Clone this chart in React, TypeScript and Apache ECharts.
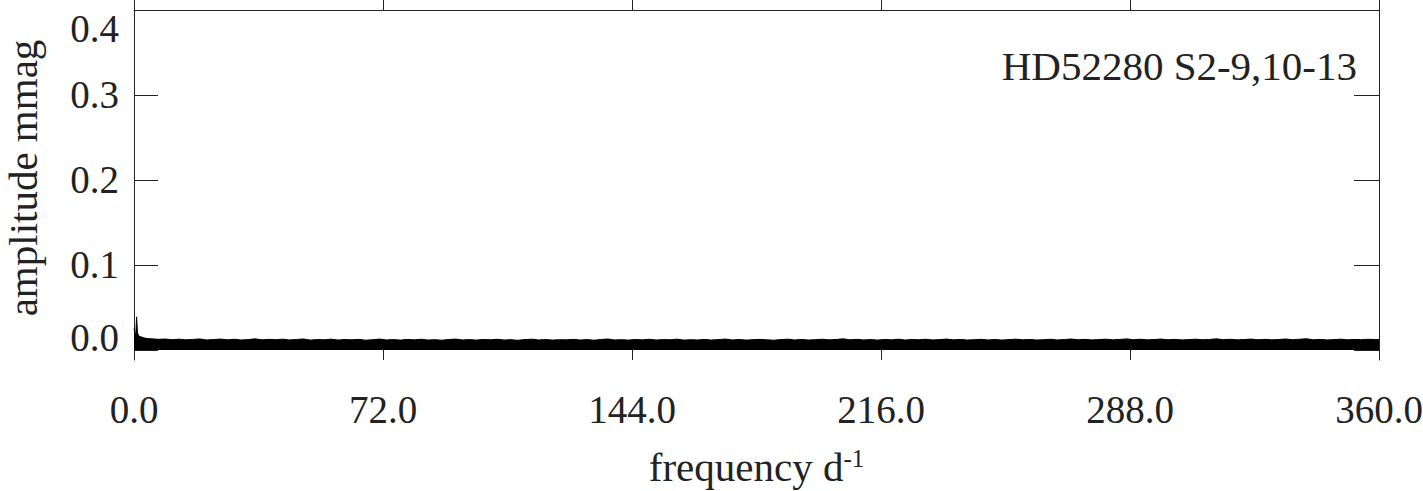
import React, { useEffect, useRef } from "react";
import * as echarts from "echarts";

const xTicks = [0, 72, 144, 216, 288, 360];
const yTicks = [0, 0.1, 0.2, 0.3, 0.4];
const starLabel = "HD52280 S2-9,10-13";
const xTitle = "frequency d";
const xTitleSup = "-1";
const yTitle = "amplitude mmag";

// low-frequency part of the amplitude spectrum (d^-1, mmag)
const lowFreq = [0, 0.25, 0.5, 0.75, 1.0, 1.25, 1.5, 2, 2.5, 3, 3.5, 4];
const lowAmp = [0.025, 0.021, 0.017, 0.039, 0.02, 0.018, 0.016, 0.0155, 0.0148, 0.0142, 0.0138, 0.0134];

// noise floor from 5 to 359 d^-1, every 2 d^-1
const noiseFreqStart = 5;
const noiseFreqStep = 2;
const noiseAmp = [
  0.0132, 0.0125, 0.0129, 0.0121, 0.0127, 0.0119, 0.0124, 0.0130, 0.0118, 0.0123, 0.0128, 0.0120, 0.0126, 0.0117, 0.0122, 0.0131, 0.0119, 0.0125, 0.0121, 0.0127,
  0.0118, 0.0124, 0.0129, 0.0116, 0.0122, 0.0120, 0.0127, 0.0117, 0.0123, 0.0119, 0.0125, 0.0115, 0.0121, 0.0128, 0.0118, 0.0122, 0.0116, 0.0124, 0.0119, 0.0126,
  0.0117, 0.0121, 0.0115, 0.0123, 0.0128, 0.0118, 0.0122, 0.0116, 0.0124, 0.0120, 0.0126, 0.0117, 0.0121, 0.0114, 0.0122, 0.0127, 0.0118, 0.0123, 0.0116, 0.0121,
  0.0119, 0.0125, 0.0117, 0.0122, 0.0115, 0.0123, 0.0129, 0.0118, 0.0121, 0.0116, 0.0124, 0.0119, 0.0126, 0.0117, 0.0122, 0.0120, 0.0127, 0.0116, 0.0121, 0.0118,
  0.0124, 0.0117, 0.0122, 0.0128, 0.0118, 0.0123, 0.0116, 0.0121, 0.0125, 0.0119, 0.0115, 0.0122, 0.0127, 0.0118, 0.0124, 0.0117, 0.0121, 0.0126, 0.0119, 0.0123,
  0.0131, 0.0120, 0.0125, 0.0118, 0.0122, 0.0116, 0.0124, 0.0119, 0.0127, 0.0117, 0.0123, 0.0120, 0.0126, 0.0118, 0.0122, 0.0128, 0.0119, 0.0124, 0.0117, 0.0121,
  0.0125, 0.0118, 0.0123, 0.0116, 0.0122, 0.0127, 0.0119, 0.0124, 0.0117, 0.0121, 0.0126, 0.0118, 0.0123, 0.0129, 0.0120, 0.0125, 0.0118, 0.0122, 0.0127, 0.0119,
  0.0124, 0.0130, 0.0121, 0.0126, 0.0119, 0.0123, 0.0128, 0.0120, 0.0125, 0.0118, 0.0122, 0.0127, 0.0120, 0.0124, 0.0131, 0.0121, 0.0126, 0.0119, 0.0123, 0.0128,
  0.0120, 0.0125, 0.0119, 0.0123, 0.0129, 0.0121, 0.0126, 0.0132, 0.0120, 0.0124, 0.0118, 0.0122, 0.0127, 0.0119, 0.0124, 0.0121, 0.0126, 0.0122,
];
// last sample at the right edge of the range
const endFreq = 360;
const endAmp = 0.0123;

const FONT = "'Liberation Serif', 'DejaVu Serif', serif";
const INK = "#222";

export default function App() {
  const ref = useRef<HTMLDivElement>(null);

  useEffect(() => {
    if (!ref.current) return;
    const chart = echarts.init(ref.current, undefined, { renderer: "svg" });

    const data: [number, number][] = [];
    lowFreq.forEach((f, i) => data.push([f, lowAmp[i]]));
    noiseAmp.forEach((a, i) => data.push([noiseFreqStart + i * noiseFreqStep, a]));
    data.push([endFreq, endAmp]);

    const yLabelFmt = (v: number) => {
      const s = v.toFixed(1);
      if (Math.abs(v) < 1e-9) return `{lo|${s}}`;
      if (Math.abs(v - 0.4) < 1e-9) return `{hi|${s}}`;
      return `{n|${s}}`;
    };

    chart.setOption({
      animation: false,
      backgroundColor: "#fff",
      grid: { left: 134, right: 44, top: 10, bottom: 131, containLabel: false, outerBoundsMode: "none" },
      xAxis: [
        {
          type: "value",
          position: "bottom",
          min: xTicks[0],
          max: xTicks[xTicks.length - 1],
          interval: 72,
          axisLine: { show: false, onZero: false },
          axisTick: { show: true, inside: true, length: 10, lineStyle: { color: INK, width: 1 } },
          axisLabel: {
            show: true,
            margin: 30,
            fontSize: 39,
            fontFamily: FONT,
            color: INK,
            formatter: (v: number) => v.toFixed(1),
          },
          splitLine: { show: false },
          name: `{a|${xTitle}}{s|${xTitleSup}}`,
          nameLocation: "middle",
          nameGap: 86,
          nameTextStyle: {
            rich: {
              a: { fontSize: 41, fontFamily: FONT, color: INK, lineHeight: 41 },
              s: { fontSize: 25, fontFamily: FONT, color: INK, verticalAlign: "top", lineHeight: 24 },
            },
          },
        },
        {
          type: "value",
          position: "top",
          min: xTicks[0],
          max: xTicks[xTicks.length - 1],
          interval: 72,
          axisLine: { show: true, onZero: false, lineStyle: { color: INK, width: 1 } },
          axisTick: { show: true, inside: false, length: 10, lineStyle: { color: INK, width: 1 } },
          axisLabel: { show: false },
          splitLine: { show: false },
        },
      ],
      yAxis: [
        {
          type: "value",
          position: "left",
          min: -0.0118,
          max: 0.4,
          axisLine: { show: true, onZero: false, lineStyle: { color: INK, width: 1 } },
          axisTick: { show: true, inside: true, length: 24, customValues: yTicks, lineStyle: { color: INK, width: 1 } },
          axisLabel: {
            show: true,
            customValues: yTicks,
            margin: 15,
            formatter: yLabelFmt,
            rich: {
              n: { fontSize: 39, fontFamily: FONT, color: INK },
              lo: { fontSize: 39, fontFamily: FONT, color: INK, padding: [0, 0, 24, 0] },
              hi: { fontSize: 39, fontFamily: FONT, color: INK, padding: [36, 0, 0, 0] },
            },
          },
          splitLine: { show: false },
          name: yTitle,
          nameLocation: "middle",
          nameGap: 93,
          nameTextStyle: { fontSize: 41, lineHeight: 36, fontFamily: FONT, color: INK, padding: [0, 0, 0, 14] },
        },
        {
          type: "value",
          position: "right",
          min: -0.0118,
          max: 0.4,
          axisLine: { show: true, onZero: false, lineStyle: { color: INK, width: 1 } },
          axisTick: { show: true, inside: true, length: 25, customValues: yTicks, lineStyle: { color: INK, width: 1 } },
          axisLabel: { show: false },
          splitLine: { show: false },
        },
      ],
      graphic: [
        {
          type: "text",
          x: 1357,
          y: 66,
          style: {
            text: starLabel,
            fontSize: 41,
            fontFamily: FONT,
            fill: INK,
            align: "right",
            verticalAlign: "middle",
          },
        },
      ],
      series: [
        {
          type: "line",
          xAxisIndex: 0,
          yAxisIndex: 0,
          data,
          showSymbol: false,
          symbol: "none",
          lineStyle: { color: "#000", width: 1 },
          areaStyle: { color: "#000", opacity: 1 },
          clip: true,
        },
      ],
    });

    return () => chart.dispose();
  }, []);

  return (
    <div
      ref={ref}
      style={{ position: "fixed", left: 0, top: 0, width: 1423, height: 491, background: "#fff" }}
    />
  );
}
